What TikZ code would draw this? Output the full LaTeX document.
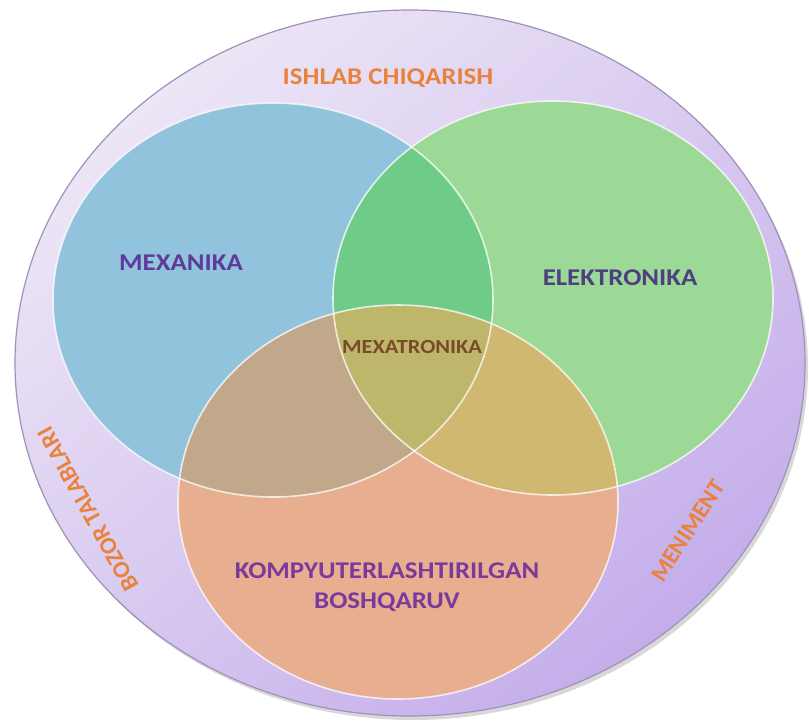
\documentclass[tikz,border=0pt]{standalone}
\usepackage{fontspec}
\setmainfont{Carlito}
\usetikzlibrary{calc}
\usetikzlibrary{shadows}

\definecolor{ringtop}{HTML}{EDE6F6}
\definecolor{ringbottom}{HTML}{C4ADEA}
\definecolor{ringline}{HTML}{9E92B8}
\definecolor{mexclr}{HTML}{92C3DC}
\definecolor{eleclr}{HTML}{9CD996}
\definecolor{komclr}{HTML}{E8AE90}
\definecolor{mexeleclr}{HTML}{6FCC88}
\definecolor{mexkomclr}{HTML}{C2A88A}
\definecolor{elekomclr}{HTML}{D0B870}
\definecolor{allclr}{HTML}{BDB66B}
\definecolor{ringtext}{HTML}{E8823C}
\definecolor{mextext}{HTML}{5E3A9A}
\definecolor{eletext}{HTML}{4E3F80}
\definecolor{mxttext}{HTML}{7B4A26}
\definecolor{komtext}{HTML}{7A3A9C}

\tikzset{
  venn/.style={x radius=220,y radius=197},
  vennline/.style={draw=white,line width=1.6pt,opacity=0.75},
  label/.style={font=\fontsize{#1}{30}\selectfont\bfseries,inner sep=0pt,xscale=1.12},
  ringlabel/.style={font=\fontsize{#1}{22}\selectfont\bfseries,inner sep=0pt,text=ringtext}
}

\begin{document}
\begin{tikzpicture}[x=1pt,y=-1pt]
\useasboundingbox (0,0) rectangle (809,724);
\fill[white] (0,0) rectangle (809,724);

\coordinate (RINGCENTER) at (410,363);
\coordinate (MEXC) at (273,300);
\coordinate (ELEC) at (553,298);
\coordinate (KOMC) at (398,502);

% draw outer ring
\path[top color=ringtop,bottom color=ringbottom,shading angle=40,draw=ringline,line width=1.2pt,
  drop shadow={shadow xshift=3pt,shadow yshift=-4pt,opacity=0.3}]
  (RINGCENTER) ellipse [x radius=395,y radius=353];

%%%%%%%%%%%%%%%%%%%
% draw circles
\fill[mexclr] (MEXC) ellipse [venn];
\fill[eleclr] (ELEC) ellipse [venn];
\fill[komclr] (KOMC) ellipse [venn];

% overlaps
\begin{scope}
  \clip (MEXC) ellipse [venn];
  \fill[mexeleclr] (ELEC) ellipse [venn];
  \fill[mexkomclr] (KOMC) ellipse [venn];
\end{scope}
\begin{scope}
  \clip (ELEC) ellipse [venn];
  \fill[elekomclr] (KOMC) ellipse [venn];
\end{scope}
\begin{scope}
  \clip (MEXC) ellipse [venn];
  \clip (ELEC) ellipse [venn];
  \fill[allclr] (KOMC) ellipse [venn];
\end{scope}

\draw[vennline] (MEXC) ellipse [venn];
\draw[vennline] (ELEC) ellipse [venn];
\draw[vennline] (KOMC) ellipse [venn];

%%%%%%%%%%%%%%%%%%%
% labels
\node[label=24,text=ringtext] at ($(RINGCENTER)+(-22,-285)$) (ishlab) {ISHLAB CHIQARISH};
\node[label=24,text=mextext] at ($(MEXC)+(-92,-37)$) (mexanika) {MEXANIKA};
\node[label=24,text=eletext] at ($(ELEC)+(67,-20)$) (elektronika) {ELEKTRONIKA};
\node[label=20,text=mxttext] at ($(KOMC)+(14,-155)$) (mexatronika) {MEXATRONIKA};
\node[label=24,text=komtext,align=center] at ($(KOMC)+(-11,85)$) (kompyuter) {KOMPYUTERLASHTIRILGAN\\BOSHQARUV};
\node[ringlabel=24,rotate=119] at ($(RINGCENTER)+(-322,146)$) (bozor) {BOZOR TALABLARI};
\node[ringlabel=24,rotate=57] at ($(RINGCENTER)+(278,168)$) (meniment) {MENIMENT};

\end{tikzpicture}
\end{document}
